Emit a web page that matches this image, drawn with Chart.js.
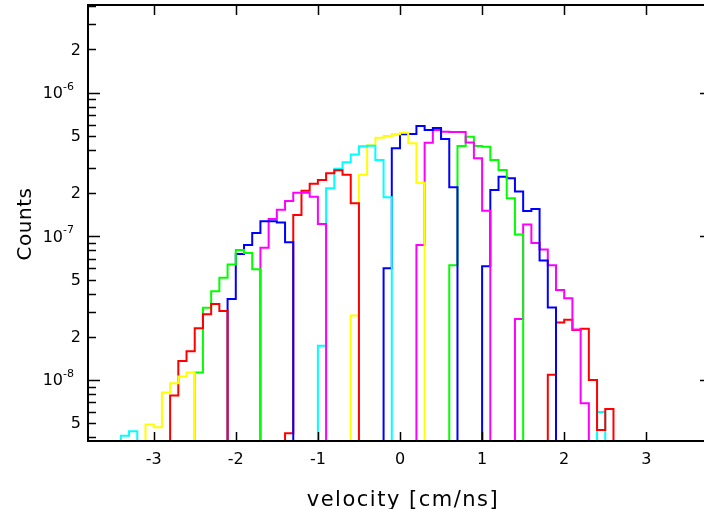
<!DOCTYPE html>
<html>
<head>
<meta charset="utf-8">
<script src="https://cdn.jsdelivr.net/npm/chart.js@4.4.1/dist/chart.umd.min.js"></script>
<style>
  html, body { margin: 0; padding: 0; background: #fff; overflow: hidden; }
</style>
</head>
<body>
<canvas id="chart" width="712" height="509"></canvas>
<script>
// histogram bins are 0.1 cm/ns wide, each piece starts at its own velocity
const binWidth = 0.1;

const cyanA    = [4.1e-9, 4.4e-9];
const yellowA  = [4.9e-9, 4.7e-9, 8.2e-9, 9.5e-9, 1.06e-8, 1.13e-8];
const redA     = [7.8e-9, 1.36e-8, 1.59e-8, 2.29e-8, 2.87e-8, 3.39e-8, 3.03e-8];
const greenA   = [1.13e-8, 3.19e-8, 4.15e-8, 5.16e-8, 6.36e-8, 8.04e-8, 7.66e-8, 5.9e-8];
const blueA    = [3.67e-8, 7.54e-8, 8.71e-8, 1.057e-7, 1.274e-7, 1.274e-7, 1.25e-7, 9.1e-8];
const magentaA = [8.34e-8, 1.32e-7, 1.53e-7, 1.76e-7, 2.01e-7, 2.01e-7, 1.89e-7, 1.22e-7];
const redB     = [4.27e-9, 1.41e-7, 2.08e-7, 2.32e-7, 2.47e-7, 2.75e-7, 2.88e-7, 2.68e-7, 1.70e-7];
const cyanB    = [1.73e-8, 2.16e-7, 2.96e-7, 3.28e-7, 3.72e-7, 4.24e-7, 4.28e-7, 3.40e-7, 1.87e-7];
const yellowB  = [2.81e-8, 2.68e-7, 4.3e-7, 4.86e-7, 5.0e-7, 5.13e-7, 5.27e-7, 4.45e-7, 2.36e-7];
const blueB    = [6.0e-8, 4.1e-7, 5.13e-7, 5.15e-7, 5.87e-7, 5.5e-7, 5.68e-7, 4.77e-7, 2.2e-7];
const magentaB = [8.7e-8, 4.48e-7, 5.5e-7, 5.35e-7, 5.33e-7, 5.33e-7, 4.5e-7, 3.5e-7, 1.51e-7];
const greenB   = [6.3e-8, 4.26e-7, 4.94e-7, 4.26e-7, 4.2e-7, 3.4e-7, 2.9e-7, 1.84e-7, 1.03e-7];
const blueC    = [6.2e-8, 2.1e-7, 2.6e-7, 2.54e-7, 2.05e-7, 1.5e-7, 1.55e-7, 6.8e-8, 3.2e-8];
const magentaC = [2.66e-8, 1.21e-7, 9.0e-8, 8.1e-8, 6.3e-8, 4.24e-8, 3.71e-8, 2.25e-8, 6.9e-9];
const redC     = [1.09e-8, 2.52e-8, 2.63e-8, 2.23e-8, 2.28e-8, 1.0e-8, 4.5e-9, 6.3e-9];
const cyanC    = [6.0e-9];

// first piece listed = drawn on top
const pieces = [
  { start: -3.4, counts: cyanA,    color: '#00ffff' },
  { start: -3.1, counts: yellowA,  color: '#ffff00' },
  { start: -2.8, counts: redA,     color: '#ff0000' },
  { start: -2.5, counts: greenA,   color: '#00ff00' },
  { start: -2.1, counts: blueA,    color: '#0000ff' },
  { start: -1.7, counts: magentaA, color: '#ff00ff' },
  { start: -1.4, counts: redB,     color: '#ff0000' },
  { start: -1.0, counts: cyanB,    color: '#00ffff' },
  { start: -0.6, counts: yellowB,  color: '#ffff00' },
  { start: -0.2, counts: blueB,    color: '#0000ff' },
  { start:  0.2, counts: magentaB, color: '#ff00ff' },
  { start:  0.6, counts: greenB,   color: '#00ff00' },
  { start:  1.0, counts: blueC,    color: '#0000ff' },
  { start:  1.4, counts: magentaC, color: '#ff00ff' },
  { start:  1.8, counts: redC,     color: '#ff0000' },
  { start:  2.4, counts: cyanC,    color: '#00ffff' }
];

const xTicks = [-3, -2, -1, 0, 1, 2, 3];
const yDecades = [-6, -7, -8];
const yDigitLabels = [2e-6, 5e-7, 2e-7, 5e-8, 2e-8, 5e-9];

const xMin = -3.8, xMax = 3.8;
const yMin = 3.767e-9, yMax = 4.076e-6;
const floor = 1e-10; // below the axis, so the outline drops to the frame

function outline(p) {
  const pts = [{ x: p.start, y: floor }];
  p.counts.forEach((c, i) => pts.push({ x: +(p.start + i * binWidth).toFixed(2), y: c }));
  pts.push({ x: +(p.start + p.counts.length * binWidth).toFixed(2), y: floor });
  return pts;
}

const FONT = '"DejaVu Sans", sans-serif';

const frame = {
  id: 'frame',
  afterDatasetsDraw(chart) {
    const { ctx, chartArea: a, scales } = chart;
    const xs = scales.x, ys = scales.y;
    ctx.save();
    ctx.strokeStyle = '#000';
    ctx.lineWidth = 1.5;
    ctx.beginPath();
    // y ticks, both sides, pointing inward
    for (let d = -9; d <= -5; d++) {
      for (let m = 1; m <= 9; m++) {
        const v = m * Math.pow(10, d);
        if (v <= yMin || v >= yMax) continue;
        const y = Math.round(ys.getPixelForValue(v)) + 0.5;
        const len = m === 1 ? 12 : 8;
        ctx.moveTo(a.left, y); ctx.lineTo(a.left + len, y);
        ctx.moveTo(a.right, y); ctx.lineTo(a.right - len, y);
      }
    }
    xTicks.forEach(t => {
      const x = Math.round(xs.getPixelForValue(t)) + 0.5;
      ctx.moveTo(x, a.top); ctx.lineTo(x, a.top + 10);
      ctx.moveTo(x, a.bottom); ctx.lineTo(x, a.bottom - 9);
    });
    ctx.stroke();
    ctx.lineWidth = 2;
    ctx.strokeRect(a.left, a.top, a.right - a.left, a.bottom - a.top);

    ctx.fillStyle = '#000';
    ctx.font = '16px ' + FONT;
    ctx.textAlign = 'center';
    ctx.textBaseline = 'middle';
    xTicks.forEach(t => {
      ctx.fillText(t < 0 ? '-' + (-t) : String(t), xs.getPixelForValue(t), 460);
    });

    ctx.textAlign = 'right';
    yDigitLabels.forEach(v => {
      const lead = Math.round(v / Math.pow(10, Math.floor(Math.log10(v) + 1e-9)));
      ctx.font = '16px ' + FONT;
      ctx.fillText(String(lead), 81, ys.getPixelForValue(v) + 1);
    });
    yDecades.forEach(d => {
      const y = ys.getPixelForValue(Math.pow(10, d));
      ctx.font = '11px ' + FONT;
      const sup = String(d);
      ctx.fillText(sup, 74, y - 6);
      const w = ctx.measureText(sup).width;
      ctx.font = '16px ' + FONT;
      ctx.fillText('10', 74 - w, y + 1);
    });

    ctx.textAlign = 'center';
    ctx.textBaseline = 'alphabetic';
    ctx.font = '21px ' + FONT;
    ctx.letterSpacing = '1.5px';
    ctx.fillText('velocity [cm/ns]', 403, 506);
    ctx.save();
    ctx.translate(31, 224);
    ctx.rotate(-Math.PI / 2);
    ctx.font = '20px ' + FONT;
    ctx.letterSpacing = '0.5px';
    ctx.fillText('Counts', 0, 0);
    ctx.restore();
    ctx.restore();
  }
};

new Chart(document.getElementById('chart'), {
  type: 'line',
  data: {
    datasets: pieces.map(p => ({
      data: outline(p),
      borderColor: p.color,
      borderWidth: 2,
      stepped: 'before',
      pointRadius: 0,
      fill: false
    }))
  },
  options: {
    responsive: false,
    animation: false,
    events: [],
    layout: { padding: { left: 88, top: 5, right: 0, bottom: 68 } },
    plugins: { legend: { display: false }, tooltip: { enabled: false } },
    scales: {
      x: { type: 'linear', min: xMin, max: xMax, display: false },
      y: { type: 'logarithmic', min: yMin, max: yMax, display: false }
    }
  },
  plugins: [frame]
});
</script>
</body>
</html>
